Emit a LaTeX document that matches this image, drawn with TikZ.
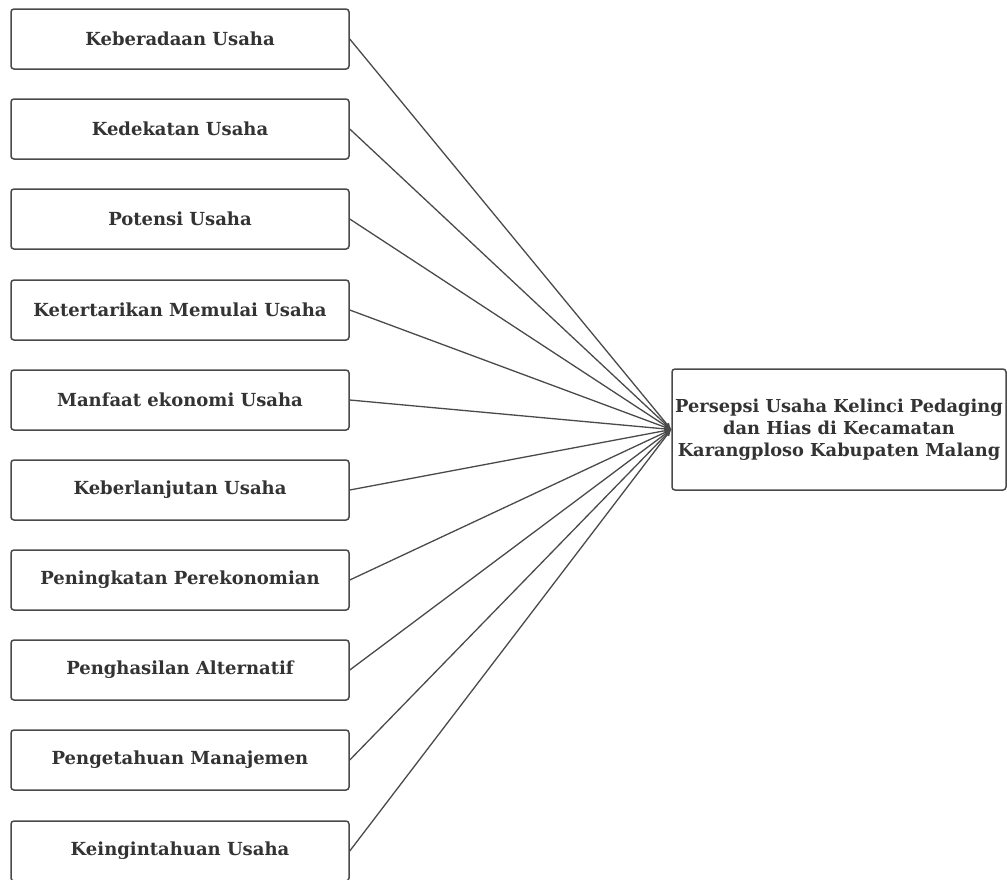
\documentclass[tikz,border=0pt]{standalone}
\usepackage{fontspec}
\setmainfont{DejaVu Serif}
\usetikzlibrary{positioning}

\definecolor{linegray}{HTML}{4A4A4A}
\definecolor{textgray}{HTML}{333333}

\begin{document}
\begin{tikzpicture}[x=1pt,y=-1pt,
  faktor/.style={draw=linegray,line width=1.5pt,rounded corners=3pt,fill=white,minimum width=338pt,minimum height=60pt,inner sep=0pt,text=textgray,font=\fontsize{18}{22}\selectfont\bfseries},
  hasil/.style={draw=linegray,line width=1.5pt,rounded corners=3pt,fill=white,minimum width=334pt,minimum height=121pt,inner sep=0pt,align=center,text=textgray,font=\fontsize{17.8}{22}\selectfont\bfseries},
  panah/.style={-latex,draw=linegray,line width=1.3pt}]

\useasboundingbox (0,0) rectangle (1007,879);

% kotak kiri
\node[faktor] (f1) at (180,39) {Keberadaan Usaha};
\node[faktor] (f2) at (180,129) {Kedekatan Usaha};
\node[faktor] (f3) at (180,219) {Potensi Usaha};
\node[faktor] (f4) at (180,310) {Ketertarikan Memulai Usaha};
\node[faktor] (f5) at (180,400) {Manfaat ekonomi Usaha};
\node[faktor] (f6) at (180,490) {Keberlanjutan Usaha};
\node[faktor] (f7) at (180,580) {Peningkatan Perekonomian};
\node[faktor] (f8) at (180,670) {Penghasilan Alternatif};
\node[faktor] (f9) at (180,760) {Pengetahuan Manajemen};
\node[faktor] (f10) at (180,851) {Keingintahuan Usaha};

% kotak kanan
\node[hasil] (persepsi) at (839,429.5) {Persepsi Usaha Kelinci Pedaging\\dan Hias di Kecamatan\\Karangploso Kabupaten Malang};

\foreach \i in {1,...,10}
  \draw[panah] (f\i.east) -- (persepsi.west);

\end{tikzpicture}
\end{document}
